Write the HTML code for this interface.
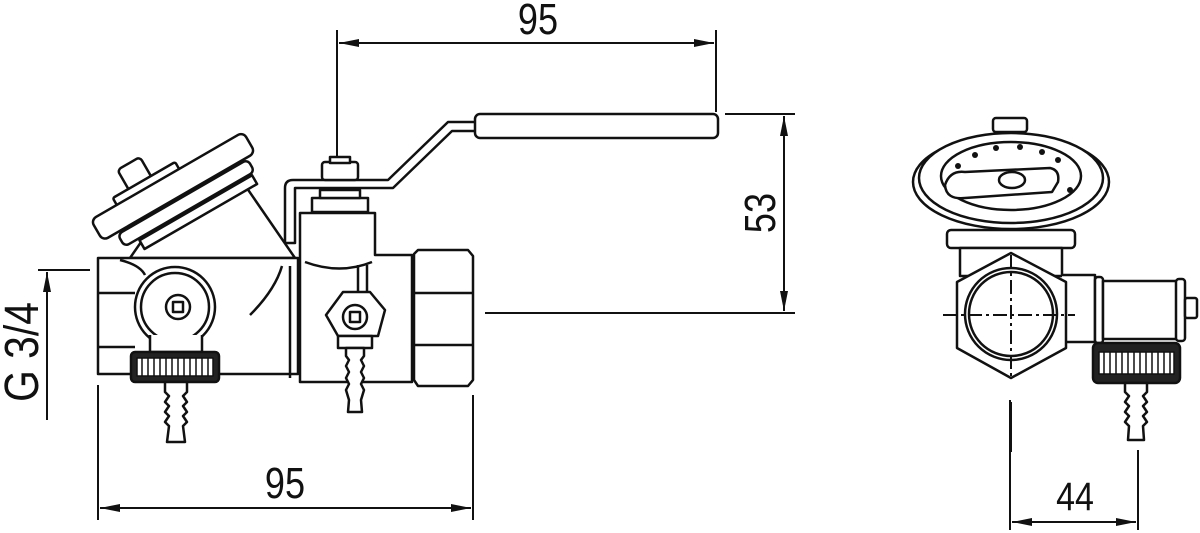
<!DOCTYPE html>
<html><head><meta charset="utf-8"><style>
html,body{margin:0;padding:0;background:#fff;}
svg{display:block}
text{font-family:"Liberation Sans",sans-serif;fill:#111}
</style></head><body>
<svg width="1200" height="533" viewBox="0 0 1200 533" xmlns="http://www.w3.org/2000/svg">
<defs>
<marker id="ar" viewBox="0 0 20 8" refX="20" refY="4" markerWidth="20" markerHeight="8" orient="auto-start-reverse" markerUnits="userSpaceOnUse">
<path d="M0,0 L20,4 L0,8 Z" fill="#111"/></marker>
</defs>
<g stroke="#111" stroke-width="2" fill="none">
<line x1="337" y1="30" x2="337" y2="160"/>
<line x1="716" y1="30" x2="716" y2="112"/>
<line x1="339" y1="43" x2="714" y2="43" marker-start="url(#ar)" marker-end="url(#ar)"/>
<line x1="725" y1="114" x2="795" y2="114"/>
<line x1="485" y1="313" x2="795" y2="313"/>
<line x1="784" y1="116" x2="784" y2="311" marker-start="url(#ar)" marker-end="url(#ar)"/>
<line x1="98" y1="385" x2="98" y2="520"/>
<line x1="473" y1="395" x2="473" y2="520"/>
<line x1="100" y1="508" x2="471" y2="508" marker-start="url(#ar)" marker-end="url(#ar)"/>
<line x1="38" y1="270" x2="90" y2="270"/>
<line x1="47" y1="272" x2="47" y2="420" marker-start="url(#ar)"/>
<line x1="1010" y1="400" x2="1010" y2="530"/>
<line x1="1138" y1="450" x2="1138" y2="530"/>
<line x1="1012" y1="522" x2="1136" y2="522" marker-start="url(#ar)" marker-end="url(#ar)"/>
</g>
<text x="538" y="34" font-size="44" text-anchor="middle" transform="translate(538 0) scale(0.82 1) translate(-538 0)">95</text>
<text x="285" y="498" font-size="44" text-anchor="middle" transform="translate(285 0) scale(0.82 1) translate(-285 0)">95</text>
<text x="1075" y="510" font-size="40" text-anchor="middle" transform="translate(1075 0) scale(0.85 1) translate(-1075 0)">44</text>
<text font-size="44" text-anchor="middle" transform="translate(775 213) rotate(-90) scale(0.82 1)">53</text>
<text font-size="48" text-anchor="middle" transform="translate(38 352) rotate(-90) scale(0.85 1)">G 3/4</text>

<g stroke="#111" stroke-width="2.5" fill="#fff" stroke-linejoin="round">
<!-- lever -->
<path d="M285,243 L285,188 Q285,180 293,180 L388,180 L448,122 L476,122 L476,131 L452,131 L393,188 L295,188 L295,243 Z"/>
<rect x="475" y="114" width="243" height="24" rx="5"/>
<rect x="322" y="162" width="36" height="18" rx="3"/>
<rect x="330" y="157" width="20" height="6"/>
<!-- bonnet angled body -->
<path d="M130,258 L148,232 L240,178 L262,210 L295,258 Z"/>
<!-- main body -->
<rect x="98" y="258" width="200" height="116"/>
<path d="M300,213 L375,213 L375,255 L412,255 L412,382 L300,382 Z"/>
<rect x="312" y="198" width="56" height="14"/>
<rect x="320" y="190" width="40" height="8"/>
<line x1="290" y1="266" x2="290" y2="378"/>
<path d="M305,262 Q340,275 372,262" fill="none"/>
<line x1="98" y1="293" x2="135" y2="293"/><line x1="98" y1="347" x2="135" y2="347"/>
<path d="M120,260 Q140,265 145,275" fill="none"/>
<path d="M282,266 Q275,290 250,315" fill="none"/>
<!-- right nut -->
<path d="M414,254 L418,250 L468,250 L473,256 L473,380 L468,386 L418,386 L414,380 Z"/>
<line x1="414" y1="293" x2="473" y2="293"/><line x1="414" y1="345" x2="473" y2="345"/>
<!-- tilted handwheel -->
<g transform="translate(178 195) rotate(-30)">
<rect x="-40" y="-52" width="26" height="28" rx="4"/>
<rect x="-58" y="-30" width="72" height="10" rx="2"/>
<rect x="-88" y="-22" width="176" height="24" rx="6"/>
<rect x="-72" y="4" width="150" height="14" rx="5"/>
<rect x="-56" y="20" width="130" height="10"/>
</g>
<!-- left gauge -->
<circle cx="175" cy="307" r="40"/>
<circle cx="175" cy="307" r="34"/>
<circle cx="178" cy="307" r="12"/>
<rect x="173" y="302" width="10" height="10"/>
<path d="M150,335 L150,352 L202,352 L202,335" />
<rect x="131" y="352" width="88" height="30" rx="4" fill="#222"/>
<rect x="137" y="358" width="76" height="18" fill="#fff" stroke-width="1.5"/>
<g stroke-width="1.5">
<path d="M142,358v18M148,358v18M154,358v18M160,358v18M166,358v18M172,358v18M178,358v18M184,358v18M190,358v18M196,358v18M202,358v18M208,358v18"/>
</g>
<path d="M165,382 L187,382 L187,392 L183,396 L187,402 L183,406 L187,412 L183,416 L187,422 L183,426 L185,442 L167,442 L169,426 L165,422 L169,416 L165,412 L169,406 L165,402 L169,396 L165,392 Z"/>
<!-- middle test point -->
<line x1="358" y1="265" x2="358" y2="292"/><line x1="367" y1="265" x2="367" y2="292"/>
<path d="M343,292 L370,292 L385,310 L378,336 L338,336 L326,315 Z"/>
<circle cx="355" cy="317" r="12"/>
<rect x="350" y="312" width="10" height="10"/>
<rect x="338" y="336" width="34" height="12"/>
<path d="M346,348 L364,348 L364,356 L361,360 L364,366 L361,372 L364,378 L361,384 L364,390 L361,400 L362,412 L348,412 L349,400 L346,390 L349,384 L346,378 L349,372 L346,366 L349,360 L346,356 Z"/>

<!-- right view -->
<rect x="993" y="118" width="34" height="14" rx="3"/>
<ellipse cx="1011" cy="182" rx="98" ry="47"/>
<ellipse cx="1011" cy="178" rx="92" ry="45"/>
<ellipse cx="1011" cy="176" rx="70" ry="34"/>
<path d="M945,185 Q950,170 965,172 L1050,168 Q1060,170 1058,182 L1052,192 L965,198 Q946,200 945,185 Z"/>
<ellipse cx="1012" cy="180" rx="13" ry="8"/>
<rect x="947" y="230" width="128" height="18" rx="4"/>
<rect x="960" y="248" width="102" height="28"/>
<path d="M1062,275 L1095,275 L1095,342 L1062,342"/>
<rect x="1095" y="277" width="8" height="66" rx="3"/>
<rect x="1103" y="281" width="78" height="58"/>
<rect x="1176" y="279" width="9" height="62" rx="3"/>
<rect x="1185" y="298" width="12" height="20" rx="2"/>
<path d="M1011,253 L1066,282 L1066,348 L1011,378 L957,348 L957,282 Z"/>
<circle cx="1011" cy="314" r="46"/>
<circle cx="1011" cy="314" r="42"/>
<rect x="1093" y="343" width="87" height="40" rx="5" fill="#222"/>
<rect x="1099" y="352" width="75" height="22" fill="#fff" stroke-width="1.5"/>
<g stroke-width="1.5"><path d="M1104,352v22M1110,352v22M1116,352v22M1122,352v22M1128,352v22M1134,352v22M1140,352v22M1146,352v22M1152,352v22M1158,352v22M1164,352v22M1170,352v22"/></g>
<path d="M1125,383 L1147,383 L1147,392 L1143,396 L1147,402 L1143,406 L1147,412 L1143,416 L1147,422 L1143,426 L1144,440 L1128,440 L1129,426 L1125,422 L1129,416 L1125,412 L1129,406 L1125,402 L1129,396 L1125,392 Z"/>
</g>
<g stroke="#111" stroke-width="2" stroke-dasharray="14,4,3,4" fill="none">
<line x1="943" y1="315" x2="1075" y2="315"/>
<line x1="1011" y1="255" x2="1011" y2="380"/>
</g>
<line x1="1011" y1="402" x2="1011" y2="452" stroke="#111" stroke-width="2"/>
<g fill="#111"><circle cx="958" cy="166" r="3"/><circle cx="975" cy="155" r="3"/><circle cx="996" cy="148" r="3"/><circle cx="1020" cy="147" r="3"/><circle cx="1042" cy="152" r="3"/><circle cx="1058" cy="160" r="3"/><circle cx="1070" cy="190" r="3"/></g>
</svg>
</body></html>
